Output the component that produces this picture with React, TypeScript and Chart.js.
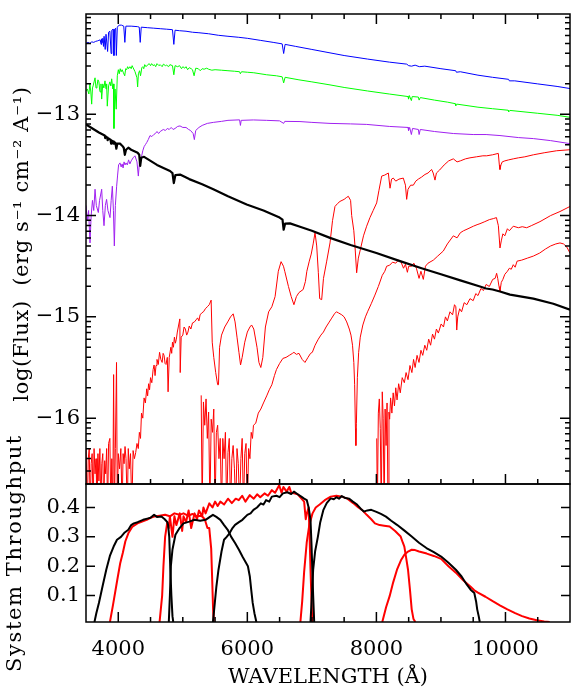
import React, { useEffect, useRef } from "react";
import { Chart, registerables } from "chart.js";

Chart.register(...registerables);

type Pt = [number, number];

// ---------- axis ranges and tick labels ----------
const wavelengthRange: Pt = [3500, 11000];
const fluxRange: Pt = [-16.65, -12.01];
const throughputRange: Pt = [0.01, 0.48];
const wavelengthTicks = [4000, 6000, 8000, 10000];
const fluxTicks = [-16, -15, -14, -13];
const throughputTicks = [0.1, 0.2, 0.3, 0.4];

// ---------- spectra: [wavelength (Å), log flux] ----------
const blueSpectrum: Pt[] = [
  [3500, -12.3], [3530, -12.29], [3560, -12.3], [3590, -12.285], [3620, -12.29], [3650, -12.28], [3680, -12.275],
  [3700, -12.27], [3720, -12.265], [3734, -12.31], [3742, -12.255], [3750, -12.29], [3760, -12.25], [3771, -12.33],
  [3780, -12.23], [3798, -12.36], [3810, -12.21], [3835, -12.38], [3850, -12.19], [3870, -12.18], [3889, -12.4],
  [3900, -12.17], [3920, -12.16], [3933, -12.42], [3945, -12.16], [3960, -12.15], [3970, -12.42], [3985, -12.14],
  [4013, -12.12], [4050, -12.12], [4085, -12.13], [4102, -12.29], [4118, -12.13], [4200, -12.13], [4300, -12.135],
  [4325, -12.14], [4340, -12.29], [4356, -12.14], [4450, -12.145], [4550, -12.15], [4650, -12.155], [4750, -12.16],
  [4840, -12.165], [4861, -12.31], [4880, -12.17], [4950, -12.175], [5050, -12.18], [5150, -12.19], [5250, -12.195],
  [5400, -12.205], [5550, -12.22], [5700, -12.23], [5867, -12.24], [6000, -12.25], [6200, -12.27], [6400, -12.29],
  [6540, -12.305], [6563, -12.4], [6585, -12.31], [6750, -12.33], [7000, -12.36], [7250, -12.39], [7500, -12.42],
  [7863, -12.455], [8200, -12.485], [8470, -12.505], [8500, -12.52], [8545, -12.525], [8600, -12.515], [8665, -12.53],
  [8750, -12.525], [9000, -12.55], [9229, -12.57], [9240, -12.585], [9300, -12.58], [9574, -12.614], [9800, -12.635],
  [10049, -12.655], [10060, -12.67], [10144, -12.67], [10500, -12.7], [10800, -12.725], [11000, -12.746],
];

const greenSpectrum: Pt[] = [
  [3500, -12.77], [3520, -12.75], [3545, -12.8], [3560, -12.7], [3575, -12.78], [3588, -12.9], [3600, -12.74],
  [3610, -12.72], [3625, -12.68], [3640, -12.64], [3655, -12.74], [3670, -12.72], [3685, -12.66], [3700, -12.68],
  [3712, -12.76], [3720, -12.78], [3732, -12.7], [3743, -12.85], [3760, -12.7], [3777, -12.74], [3794, -12.67],
  [3810, -12.75], [3820, -12.7], [3830, -12.92], [3850, -12.72], [3870, -12.68], [3885, -12.72], [3898, -12.65],
  [3915, -12.75], [3925, -12.7], [3933, -13.14], [3950, -12.75], [3968, -12.95], [3985, -12.62], [4001, -12.56],
  [4015, -12.6], [4030, -12.55], [4045, -12.58], [4060, -12.56], [4080, -12.59], [4100, -12.62], [4115, -12.55],
  [4130, -12.56], [4145, -12.53], [4160, -12.55], [4180, -12.53], [4200, -12.55], [4215, -12.52], [4230, -12.54],
  [4260, -12.58], [4290, -12.64], [4300, -12.73], [4312, -12.6], [4330, -12.57], [4345, -12.62], [4365, -12.54],
  [4380, -12.53], [4395, -12.55], [4410, -12.51], [4430, -12.53], [4450, -12.515], [4480, -12.5], [4500, -12.52],
  [4517, -12.5], [4540, -12.52], [4560, -12.51], [4580, -12.53], [4600, -12.5], [4630, -12.52], [4650, -12.51],
  [4680, -12.53], [4700, -12.505], [4730, -12.52], [4750, -12.515], [4780, -12.53], [4800, -12.51], [4840, -12.52],
  [4861, -12.61], [4880, -12.52], [4920, -12.53], [4950, -12.52], [4980, -12.55], [5000, -12.53], [5030, -12.545],
  [5050, -12.53], [5075, -12.56], [5100, -12.54], [5130, -12.55], [5150, -12.56], [5175, -12.62], [5200, -12.545],
  [5240, -12.55], [5270, -12.57], [5300, -12.55], [5330, -12.555], [5370, -12.545], [5400, -12.555], [5450, -12.565],
  [5500, -12.56], [5600, -12.565], [5700, -12.57], [5800, -12.575], [5880, -12.58], [5892, -12.6], [5910, -12.58],
  [6000, -12.585], [6100, -12.59], [6300, -12.61], [6450, -12.62], [6540, -12.63], [6563, -12.69], [6585, -12.635],
  [6800, -12.66], [7000, -12.68], [7281, -12.71], [7500, -12.735], [7863, -12.77], [8200, -12.8], [8490, -12.825],
  [8498, -12.85], [8510, -12.815], [8542, -12.865], [8555, -12.825], [8650, -12.83], [8662, -12.86], [8680, -12.835],
  [8900, -12.86], [9100, -12.88], [9220, -12.895], [9230, -12.915], [9250, -12.9], [9574, -12.93], [9800, -12.945],
  [10040, -12.96], [10050, -12.975], [10070, -12.962], [10500, -12.99], [10800, -13.01], [11000, -13.03],
];

const purpleSpectrum: Pt[] = [
  [3500, -13.9], [3520, -14.05], [3540, -13.95], [3562, -14.27], [3580, -14.0], [3600, -13.85], [3620, -13.95],
  [3640, -13.74], [3660, -13.9], [3691, -13.97], [3710, -13.85], [3743, -13.74], [3760, -13.95], [3779, -14.1],
  [3800, -13.9], [3819, -13.84], [3840, -13.95], [3872, -14.02], [3890, -13.85], [3908, -13.71], [3925, -13.95],
  [3939, -14.3], [3955, -13.9], [3975, -13.71], [3990, -13.6], [4005, -13.5], [4027, -13.48], [4045, -13.52],
  [4060, -13.49], [4075, -13.53], [4090, -13.47], [4105, -13.5], [4120, -13.48], [4140, -13.5], [4160, -13.45],
  [4180, -13.49], [4200, -13.46], [4230, -13.43], [4259, -13.41], [4290, -13.47], [4311, -13.61], [4330, -13.46],
  [4360, -13.42], [4380, -13.36], [4400, -13.32], [4420, -13.3], [4440, -13.28], [4465, -13.25], [4492, -13.21],
  [4520, -13.22], [4550, -13.2], [4575, -13.19], [4600, -13.17], [4625, -13.19], [4650, -13.17], [4698, -13.15],
  [4730, -13.16], [4760, -13.14], [4790, -13.15], [4820, -13.13], [4850, -13.15], [4880, -13.14], [4920, -13.12],
  [4957, -13.115], [5000, -13.13], [5050, -13.13], [5090, -13.15], [5120, -13.16], [5160, -13.19], [5179, -13.25],
  [5200, -13.16], [5250, -13.13], [5300, -13.11], [5380, -13.09], [5473, -13.08], [5600, -13.07], [5700, -13.06],
  [5880, -13.055], [5893, -13.11], [5905, -13.06], [6093, -13.056], [6300, -13.06], [6500, -13.065], [6563, -13.09],
  [6580, -13.07], [6816, -13.072], [7000, -13.08], [7281, -13.09], [7600, -13.095], [7850, -13.1], [8200, -13.12],
  [8490, -13.13], [8498, -13.16], [8515, -13.13], [8542, -13.2], [8560, -13.14], [8650, -13.15], [8662, -13.2],
  [8680, -13.15], [8900, -13.17], [9192, -13.19], [9500, -13.2], [9700, -13.2], [9915, -13.21], [10200, -13.23],
  [10432, -13.24], [10700, -13.26], [11000, -13.29],
];

const blackSpectrum: Pt[] = [
  [3500, -13.1], [3600, -13.14], [3700, -13.18], [3790, -13.21], [3798, -13.235], [3810, -13.22], [3830, -13.23],
  [3835, -13.255], [3850, -13.24], [3880, -13.25], [3889, -13.29], [3900, -13.26], [3925, -13.27], [3933, -13.29],
  [3955, -13.28], [3970, -13.34], [3985, -13.29], [4027, -13.29], [4060, -13.31], [4085, -13.33], [4102, -13.4],
  [4120, -13.35], [4156, -13.33], [4200, -13.35], [4300, -13.38], [4325, -13.4], [4340, -13.51], [4356, -13.43],
  [4400, -13.42], [4500, -13.46], [4600, -13.5], [4700, -13.53], [4802, -13.56], [4840, -13.58], [4861, -13.68],
  [4885, -13.6], [4957, -13.595], [5100, -13.64], [5300, -13.69], [5473, -13.74], [5700, -13.81], [5990, -13.89],
  [6250, -13.95], [6500, -14.02], [6545, -14.04], [6563, -14.14], [6585, -14.08], [6661, -14.077], [6816, -14.11],
  [7000, -14.15], [7281, -14.22], [7600, -14.29], [8000, -14.37], [8366, -14.45], [8700, -14.52], [9000, -14.58],
  [9300, -14.64], [9605, -14.7], [9700, -14.72], [9800, -14.73], [9915, -14.75], [10070, -14.78], [10432, -14.82],
  [10742, -14.87], [11000, -14.93],
];

const redSpectrumA: Pt[] = [
  [3500, -16.3], [3520, -16.9], [3535, -16.4], [3550, -16.3], [3565, -16.9], [3580, -16.45], [3595, -16.35],
  [3610, -16.9], [3625, -16.3], [3640, -16.55], [3655, -16.4], [3670, -16.9], [3685, -16.35], [3700, -16.62],
  [3715, -16.3], [3730, -16.9], [3745, -16.45], [3760, -16.35], [3775, -16.9], [3790, -16.42], [3805, -16.55],
  [3820, -16.3], [3835, -16.9], [3850, -16.25], [3870, -16.2], [3885, -16.9], [3900, -16.4], [3915, -16.9],
  [3928, -15.57], [3940, -16.9], [3955, -16.3], [3973, -15.45], [3985, -16.9], [4000, -16.35], [4020, -16.5],
  [4040, -16.3], [4060, -16.9], [4075, -16.35], [4090, -16.45], [4105, -16.28], [4120, -16.4], [4140, -16.9],
  [4155, -16.3], [4170, -16.5], [4190, -16.35], [4210, -16.9], [4230, -16.32], [4250, -16.4], [4270, -16.34],
  [4290, -16.25], [4310, -16.3], [4327, -16.14], [4345, -16.2], [4360, -15.95], [4380, -16.0], [4400, -15.8],
  [4420, -15.85], [4441, -15.71], [4455, -15.78], [4470, -15.66], [4485, -15.72], [4500, -15.6], [4520, -15.65],
  [4540, -15.52], [4555, -15.475], [4570, -15.58], [4585, -15.48], [4600, -15.42], [4620, -15.47], [4640, -15.35],
  [4660, -15.42], [4680, -15.45], [4695, -15.36], [4710, -15.38], [4725, -15.46], [4740, -15.47], [4760, -15.4],
  [4772, -15.74], [4790, -15.4], [4815, -15.3], [4828, -15.36], [4840, -15.25], [4855, -15.3], [4870, -15.2],
  [4885, -15.26], [4900, -15.22], [4915, -15.15], [4930, -15.1], [4954, -15.02], [4960, -15.55], [4975, -15.2],
  [5000, -15.18], [5020, -15.1], [5040, -15.12], [5060, -15.18], [5080, -15.15], [5100, -15.09], [5125, -15.12],
  [5150, -15.06], [5180, -15.05], [5205, -15.03], [5230, -15.01], [5250, -15.04], [5268, -14.98], [5295, -14.96],
  [5320, -14.95], [5350, -14.92], [5380, -14.9], [5410, -14.88], [5439, -14.835], [5456, -15.25], [5480, -15.4],
  [5510, -15.55], [5540, -15.67], [5553, -15.67], [5570, -15.3], [5600, -15.18], [5650, -15.1], [5696, -15.05],
  [5740, -15.0], [5781, -14.97], [5810, -15.05], [5840, -15.2], [5870, -15.35], [5895, -15.475], [5920, -15.4],
  [5960, -15.25], [6000, -15.15], [6040, -15.1], [6066, -15.08], [6100, -15.12], [6150, -15.3], [6180, -15.45],
  [6209, -15.5], [6240, -15.4], [6280, -15.1], [6330, -14.95], [6380, -14.9], [6430, -14.8], [6480, -14.55],
  [6523, -14.455], [6560, -14.5], [6580, -14.55], [6637, -14.7], [6680, -14.8], [6722, -14.88], [6760, -14.8],
  [6800, -14.76], [6865, -14.73], [6900, -14.65], [6922, -14.55], [6960, -14.45], [6990, -14.38], [7020, -14.28],
  [7049, -14.17], [7075, -14.3], [7100, -14.56], [7121, -14.82], [7152, -14.83], [7180, -14.62], [7230, -14.45],
  [7281, -14.27], [7320, -14.05], [7358, -13.91], [7400, -13.88], [7436, -13.86], [7500, -13.84], [7540, -13.82],
  [7565, -13.81], [7600, -13.85], [7617, -14.0], [7650, -14.15], [7668, -14.3], [7694, -14.565], [7720, -14.42],
  [7746, -14.35], [7800, -14.2], [7849, -14.105], [7900, -14.02], [7950, -13.95], [8004, -13.875], [8040, -13.75],
  [8082, -13.61], [8130, -13.6], [8185, -13.58], [8211, -13.73], [8235, -13.64], [8262, -13.63], [8300, -13.66],
  [8350, -13.64], [8417, -13.63], [8450, -13.7], [8469, -13.84], [8490, -13.74], [8530, -13.7], [8572, -13.7],
  [8610, -13.66], [8650, -13.64], [8700, -13.62], [8753, -13.594], [8800, -13.58], [8856, -13.545], [8880, -13.58],
  [8908, -13.65], [8930, -13.58], [8980, -13.55], [9050, -13.5], [9120, -13.46], [9192, -13.44], [9250, -13.47],
  [9300, -13.46], [9380, -13.44], [9450, -13.43], [9550, -13.42], [9650, -13.41], [9709, -13.41], [9800, -13.4],
  [9889, -13.386], [9905, -13.5], [9915, -13.545], [9930, -13.5], [9950, -13.47], [9990, -13.46], [10050, -13.45],
  [10121, -13.44], [10200, -13.43], [10300, -13.42], [10432, -13.4], [10600, -13.38], [10794, -13.36], [11000, -13.35],
];

const redSpectrumB: Pt[] = [
  [5285, -15.775], [5300, -16.9], [5320, -15.84], [5340, -16.07], [5360, -15.81], [5380, -16.2], [5400, -15.94],
  [5420, -16.9], [5440, -16.01], [5460, -16.14], [5480, -15.91], [5500, -16.9], [5520, -16.14], [5540, -16.07],
  [5560, -16.4], [5580, -16.2], [5600, -16.9], [5620, -16.2], [5640, -16.4], [5660, -16.14], [5680, -16.9],
  [5700, -16.34], [5720, -16.2], [5740, -16.9], [5760, -16.4], [5780, -16.27], [5800, -16.5], [5820, -16.9],
  [5840, -16.3], [5860, -16.45], [5880, -16.9], [5900, -16.4], [5920, -16.2], [5940, -16.9], [5960, -16.35],
  [5980, -16.25], [6000, -16.9], [6020, -16.3], [6040, -16.4], [6060, -16.14], [6080, -16.2], [6095, -16.07],
  [6130, -16.05], [6170, -15.95], [6209, -15.91], [6250, -15.85], [6300, -15.78], [6340, -15.72], [6380, -15.67],
  [6420, -15.58], [6451, -15.52], [6500, -15.46], [6551, -15.41], [6600, -15.4], [6650, -15.38], [6700, -15.36],
  [6722, -15.35], [6760, -15.37], [6800, -15.36], [6850, -15.42], [6893, -15.45], [6940, -15.4], [6980, -15.36],
  [7007, -15.35], [7050, -15.28], [7100, -15.22], [7140, -15.18], [7179, -15.15], [7220, -15.1], [7260, -15.06],
  [7300, -15.02], [7350, -14.97], [7380, -14.95], [7410, -14.96], [7464, -14.98], [7500, -15.0], [7540, -15.05],
  [7580, -15.12], [7606, -15.18], [7630, -15.28], [7650, -15.45], [7663, -15.67], [7675, -16.1], [7682, -16.27],
  [7690, -16.05], [7705, -15.6], [7725, -15.35], [7750, -15.2], [7790, -15.08], [7830, -15.0], [7863, -14.95],
  [7920, -14.87], [7977, -14.785], [8030, -14.7], [8091, -14.59], [8130, -14.55], [8159, -14.5], [8205, -14.49],
  [8250, -14.46], [8300, -14.47], [8340, -14.44], [8376, -14.45], [8420, -14.52], [8450, -14.48], [8480, -14.56],
  [8500, -14.5], [8547, -14.5], [8580, -14.47], [8620, -14.52], [8661, -14.62], [8690, -14.55], [8727, -14.63],
  [8760, -14.5], [8800, -14.47], [8882, -14.44], [8950, -14.4], [9037, -14.35], [9100, -14.28], [9192, -14.2],
  [9250, -14.22], [9300, -14.17], [9350, -14.15], [9420, -14.13], [9502, -14.105], [9560, -14.09], [9605, -14.08],
  [9680, -14.06], [9750, -14.04], [9812, -14.03], [9860, -14.02], [9890, -14.1], [9915, -14.32], [9935, -14.25],
  [9960, -14.18], [9990, -14.2], [10030, -14.13], [10060, -14.15], [10121, -14.105], [10200, -14.12], [10260, -14.11],
  [10329, -14.12], [10400, -14.1], [10535, -14.06], [10700, -14.0], [10845, -13.96], [11000, -13.91],
];

const redSpectrumC: Pt[] = [
  [8005, -16.2], [8015, -16.9], [8030, -15.95], [8045, -15.81], [8060, -16.1], [8075, -16.9], [8091, -15.74],
  [8105, -16.0], [8120, -16.9], [8135, -15.91], [8150, -16.27], [8165, -15.85], [8180, -16.9], [8195, -15.94],
  [8205, -16.01], [8220, -15.8], [8240, -15.95], [8260, -15.75], [8280, -15.88], [8300, -15.7], [8320, -15.82],
  [8345, -15.66], [8370, -15.75], [8400, -15.6], [8433, -15.65], [8460, -15.55], [8490, -15.62], [8520, -15.48],
  [8550, -15.55], [8576, -15.42], [8600, -15.5], [8630, -15.38], [8660, -15.45], [8690, -15.33], [8718, -15.38],
  [8750, -15.28], [8780, -15.33], [8810, -15.22], [8840, -15.28], [8870, -15.17], [8900, -15.22], [8930, -15.12],
  [8960, -15.16], [9003, -15.07], [9040, -15.1], [9070, -15.0], [9100, -15.04], [9140, -14.95], [9180, -14.98],
  [9210, -14.88], [9231, -14.9], [9245, -15.13], [9260, -15.0], [9290, -14.92], [9320, -14.95], [9360, -14.86],
  [9402, -14.88], [9450, -14.82], [9500, -14.84], [9540, -14.77], [9574, -14.79], [9620, -14.72], [9660, -14.74],
  [9700, -14.68], [9750, -14.7], [9802, -14.63], [9840, -14.62], [9863, -14.57], [9880, -14.62], [9900, -14.7],
  [9915, -14.75], [9935, -14.66], [9960, -14.63], [9990, -14.58], [10030, -14.55], [10060, -14.52], [10090, -14.53],
  [10121, -14.485], [10150, -14.51], [10180, -14.45], [10250, -14.44], [10340, -14.42], [10432, -14.4], [10530, -14.37],
  [10620, -14.33], [10700, -14.3], [10780, -14.28], [10845, -14.27], [10900, -14.28], [10950, -14.31], [11000, -14.37],
];

// ---------- filter throughputs: [wavelength (Å), throughput] ----------
const blackFilter1: Pt[] = [
  [3631, 0.01], [3660, 0.04], [3700, 0.075], [3760, 0.135], [3814, 0.188], [3870, 0.235], [3928, 0.267], [3980, 0.29],
  [4042, 0.3], [4100, 0.315], [4156, 0.324], [4200, 0.34], [4241, 0.346], [4300, 0.35], [4384, 0.358], [4450, 0.362],
  [4500, 0.365], [4555, 0.375], [4600, 0.368], [4669, 0.369], [4720, 0.36], [4760, 0.35], [4772, 0.34], [4790, 0.3],
  [4805, 0.2], [4823, 0.1], [4840, 0.03], [4852, 0.01],
];
const blackFilter2: Pt[] = [
  [4783, 0.01], [4800, 0.1], [4815, 0.2], [4840, 0.257], [4886, 0.307], [4950, 0.33], [5011, 0.346], [5100, 0.352],
  [5182, 0.358], [5270, 0.355], [5353, 0.358], [5420, 0.368], [5467, 0.375], [5520, 0.368], [5582, 0.358], [5640, 0.34],
  [5696, 0.324], [5750, 0.3], [5810, 0.279], [5870, 0.256], [5924, 0.233], [5970, 0.215], [6009, 0.2], [6038, 0.166],
  [6060, 0.12], [6083, 0.075], [6110, 0.04], [6140, 0.01],
];
const blackFilter3: Pt[] = [
  [5467, 0.01], [5496, 0.075], [5520, 0.13], [5553, 0.188], [5600, 0.25], [5639, 0.29], [5680, 0.3], [5724, 0.312],
  [5770, 0.33], [5810, 0.341], [5870, 0.35], [5924, 0.358], [6000, 0.375], [6050, 0.38], [6095, 0.392], [6150, 0.4],
  [6209, 0.414], [6250, 0.41], [6290, 0.425], [6340, 0.42], [6380, 0.437], [6450, 0.44], [6500, 0.435], [6551, 0.448],
  [6620, 0.452], [6680, 0.446], [6722, 0.454], [6780, 0.445], [6836, 0.437], [6880, 0.43], [6922, 0.425], [6950, 0.4],
  [6979, 0.358], [6995, 0.27], [7007, 0.188], [7020, 0.1], [7036, 0.01],
];
const blackFilter4: Pt[] = [
  [6979, 0.01], [7000, 0.1], [7020, 0.188], [7050, 0.25], [7093, 0.3], [7130, 0.35], [7179, 0.392], [7230, 0.415],
  [7292, 0.431], [7340, 0.428], [7380, 0.435], [7420, 0.43], [7464, 0.439], [7520, 0.432], [7580, 0.43], [7635, 0.42],
  [7700, 0.41], [7760, 0.395], [7806, 0.386], [7860, 0.39], [7920, 0.392], [8000, 0.385], [8070, 0.378], [8148, 0.369],
  [8230, 0.355], [8319, 0.341], [8430, 0.322], [8547, 0.301], [8660, 0.28], [8775, 0.262], [8890, 0.248], [9003, 0.233],
  [9117, 0.212], [9231, 0.188], [9320, 0.165], [9402, 0.137], [9460, 0.12], [9517, 0.109], [9545, 0.08], [9562, 0.053],
  [9585, 0.03], [9602, 0.01],
];
const redFilter1: Pt[] = [
  [3871, 0.01], [3920, 0.07], [3985, 0.154], [4030, 0.21], [4070, 0.245], [4110, 0.285], [4156, 0.312], [4220, 0.335],
  [4298, 0.346], [4370, 0.352], [4441, 0.358], [4500, 0.365], [4555, 0.369], [4640, 0.372], [4726, 0.375], [4800, 0.37],
  [4870, 0.38], [4950, 0.375], [5011, 0.38], [5080, 0.372], [5150, 0.378], [5220, 0.37], [5290, 0.372], [5340, 0.36],
  [5382, 0.33], [5410, 0.33], [5440, 0.26], [5456, 0.15], [5470, 0.05], [5479, 0.01],
];
const redFilter2: Pt[] = [
  [4640, 0.01], [4680, 0.1], [4700, 0.2], [4726, 0.3], [4760, 0.35], [4783, 0.33], [4800, 0.37], [4840, 0.3],
  [4870, 0.37], [4900, 0.34], [4954, 0.38], [4990, 0.32], [5011, 0.37], [5050, 0.35], [5090, 0.39], [5130, 0.33],
  [5182, 0.38], [5220, 0.36], [5250, 0.39], [5300, 0.37], [5320, 0.4], [5353, 0.38], [5411, 0.414], [5460, 0.4],
  [5500, 0.42], [5540, 0.405], [5582, 0.42], [5640, 0.41], [5700, 0.43], [5760, 0.415], [5820, 0.43], [5867, 0.425],
  [5920, 0.44], [5970, 0.42], [6038, 0.442], [6100, 0.43], [6152, 0.445], [6200, 0.435], [6266, 0.448], [6320, 0.44],
  [6380, 0.459], [6430, 0.45], [6494, 0.476], [6530, 0.45], [6560, 0.47], [6608, 0.454], [6650, 0.47], [6680, 0.45],
  [6722, 0.448], [6780, 0.445], [6836, 0.431], [6880, 0.42], [6905, 0.36], [6922, 0.38], [6950, 0.4], [6965, 0.3],
  [6979, 0.188], [6995, 0.08], [7007, 0.01],
];
const redFilter3: Pt[] = [
  [6822, 0.01], [6850, 0.08], [6880, 0.18], [6920, 0.28], [6960, 0.34], [7010, 0.38], [7060, 0.4], [7121, 0.41],
  [7200, 0.425], [7292, 0.437], [7380, 0.44], [7464, 0.437], [7550, 0.43], [7640, 0.415], [7720, 0.4], [7777, 0.392],
  [7850, 0.375], [7920, 0.36], [7977, 0.346], [8050, 0.34], [8120, 0.338], [8205, 0.335], [8290, 0.32], [8376, 0.301],
  [8410, 0.28], [8433, 0.267], [8460, 0.23], [8490, 0.188], [8520, 0.12], [8547, 0.053], [8575, 0.02], [8604, 0.01],
];
const redFilter4: Pt[] = [
  [8091, 0.01], [8150, 0.06], [8205, 0.098], [8260, 0.145], [8319, 0.188], [8380, 0.22], [8433, 0.239], [8490, 0.25],
  [8547, 0.256], [8600, 0.255], [8661, 0.25], [8780, 0.243], [8889, 0.235], [9003, 0.225], [9117, 0.2], [9231, 0.178],
  [9345, 0.152], [9460, 0.13], [9517, 0.118], [9574, 0.11], [9690, 0.096], [9802, 0.081], [9920, 0.066], [10030, 0.053],
  [10150, 0.04], [10258, 0.03], [10370, 0.022], [10486, 0.016], [10600, 0.012], [10686, 0.01],
];

const FONT = "'DejaVu Serif', serif";

const panelPlugin = {
  id: "panels",
  beforeDatasetDraw(chart: any, args: any) {
    const ds = chart.data.datasets[args.index];
    const sc = chart.scales[ds.yAxisID];
    const a = chart.chartArea;
    const ctx = chart.ctx;
    ctx.save();
    ctx.beginPath();
    ctx.rect(a.left, sc.top, a.right - a.left, sc.bottom - sc.top);
    ctx.clip();
  },
  afterDatasetDraw(chart: any) {
    chart.ctx.restore();
  },
  afterDraw(chart: any) {
    const ctx = chart.ctx;
    const xs = chart.scales.x;
    const fs = chart.scales.yFlux;
    const ts = chart.scales.yThr;
    const L = chart.chartArea.left;
    const R = chart.chartArea.right;
    ctx.save();
    ctx.strokeStyle = "#000";
    ctx.lineWidth = 1.5;
    ctx.strokeRect(L, fs.top, R - L, fs.bottom - fs.top);
    ctx.strokeRect(L, ts.top, R - L, ts.bottom - ts.top);
    ctx.beginPath();
    for (let w = wavelengthRange[0] + 500; w < wavelengthRange[1]; w += 500) {
      const px = xs.getPixelForValue(w);
      const len = w % 2000 === 0 ? 10 : 5;
      ctx.moveTo(px, fs.top);
      ctx.lineTo(px, fs.top + len);
      ctx.moveTo(px, fs.bottom);
      ctx.lineTo(px, fs.bottom - len);
      ctx.moveTo(px, ts.bottom);
      ctx.lineTo(px, ts.bottom - len);
    }
    for (let d = -17; d <= -12; d++) {
      for (let k = 1; k <= 9; k++) {
        const v = d + Math.log10(k);
        if (v <= fs.min || v >= fs.max) continue;
        const py = fs.getPixelForValue(v);
        const len = k === 1 ? 10 : 5;
        ctx.moveTo(L, py);
        ctx.lineTo(L + len, py);
        ctx.moveTo(R, py);
        ctx.lineTo(R - len, py);
      }
    }
    for (const v of throughputTicks) {
      const py = ts.getPixelForValue(v);
      ctx.moveTo(L, py);
      ctx.lineTo(L + 9, py);
      ctx.moveTo(R, py);
      ctx.lineTo(R - 9, py);
    }
    ctx.stroke();

    ctx.fillStyle = "#000";
    ctx.font = `21px ${FONT}`;
    ctx.textAlign = "center";
    ctx.textBaseline = "middle";
    ctx.fillText("WAVELENGTH (\u00C5)", (L + R) / 2, ts.bottom + 56);
    ctx.save();
    ctx.translate(23, (fs.top + fs.bottom) / 2 - 5);
    ctx.rotate(-Math.PI / 2);
    (ctx as any).letterSpacing = "0.6px";
    ctx.fillText("log(Flux)  (erg s\u207B\u00B9 cm\u207B\u00B2 A\u207B\u00B9)", 0, 0);
    ctx.restore();
    ctx.save();
    ctx.translate(16, (ts.top + ts.bottom) / 2);
    ctx.rotate(-Math.PI / 2);
    (ctx as any).letterSpacing = "1.6px";
    ctx.fillText("System Throughput", 0, 0);
    ctx.restore();
    ctx.restore();
  },
};

const noPad = (s: any) => {
  s.paddingTop = 0;
  s.paddingBottom = 0;
  s.paddingLeft = 0;
  s.paddingRight = 0;
};

export default function App() {
  const ref = useRef<HTMLCanvasElement>(null);

  useEffect(() => {
    document.body.style.margin = "0";
    const toXY = (a: Pt[]) => a.map(([x, y]) => ({ x, y }));
    const line = (label: string, data: Pt[], color: string, width: number, axis: string) => ({
      label,
      data: toXY(data),
      borderColor: color,
      backgroundColor: color,
      borderWidth: width,
      yAxisID: axis,
      pointRadius: 0,
      tension: 0,
      fill: false,
      borderJoinStyle: "round" as const,
    });

    const chart = new Chart(ref.current as HTMLCanvasElement, {
      type: "line",
      data: {
        datasets: [
          line("black star", blackSpectrum, "#000000", 2.2, "yFlux"),
          line("blue star", blueSpectrum, "#0000ff", 1, "yFlux"),
          line("green star", greenSpectrum, "#00ff00", 1, "yFlux"),
          line("purple star", purpleSpectrum, "#a020f0", 1, "yFlux"),
          line("red star A", redSpectrumA, "#ff0000", 1, "yFlux"),
          line("red star B", redSpectrumB, "#ff0000", 1, "yFlux"),
          line("red star C", redSpectrumC, "#ff0000", 1, "yFlux"),
          line("filter 1", blackFilter1, "#000000", 2, "yThr"),
          line("filter 2", blackFilter2, "#000000", 2, "yThr"),
          line("filter 3", blackFilter3, "#000000", 2, "yThr"),
          line("filter 4", blackFilter4, "#000000", 2, "yThr"),
          line("red filter 1", redFilter1, "#ff0000", 2, "yThr"),
          line("red filter 2", redFilter2, "#ff0000", 2, "yThr"),
          line("red filter 3", redFilter3, "#ff0000", 2, "yThr"),
          line("red filter 4", redFilter4, "#ff0000", 2, "yThr"),
        ] as any,
      },
      options: {
        animation: false,
        responsive: true,
        maintainAspectRatio: false,
        events: [],
        layout: { padding: { top: 14, right: 7, left: 0, bottom: 0 } },
        plugins: { legend: { display: false }, tooltip: { enabled: false } },
        scales: {
          x: {
            type: "linear",
            position: "bottom",
            min: wavelengthRange[0],
            max: wavelengthRange[1],
            grid: { display: false, drawTicks: false },
            border: { display: false },
            afterBuildTicks: (s: any) => {
              s.ticks = wavelengthTicks.map((value) => ({ value }));
            },
            afterFit: (s: any) => {
              s.height = 70;
              noPad(s);
            },
            ticks: {
              padding: 15,
              color: "#000",
              font: { family: FONT, size: 21 },
              maxRotation: 0,
              autoSkip: false,
              callback: (v: any) => String(v),
            },
          },
          yThr: {
            type: "linear",
            position: "left",
            stack: "panels",
            stackWeight: 138,
            min: throughputRange[0],
            max: throughputRange[1],
            grid: { display: false, drawTicks: false },
            border: { display: false },
            afterBuildTicks: (s: any) => {
              s.ticks = throughputTicks.map((value) => ({ value }));
            },
            afterFit: (s: any) => {
              s.width = 86;
              noPad(s);
            },
            ticks: {
              padding: 6,
              color: "#000",
              autoSkip: false,
              font: { family: FONT, size: 21 },
              callback: (v: any) => Number(v).toFixed(1),
            },
          },
          yFlux: {
            type: "linear",
            position: "left",
            stack: "panels",
            stackWeight: 470,
            min: fluxRange[0],
            max: fluxRange[1],
            grid: { display: false, drawTicks: false },
            border: { display: false },
            afterBuildTicks: (s: any) => {
              s.ticks = fluxTicks.map((value) => ({ value }));
            },
            afterFit: (s: any) => {
              s.width = 86;
              noPad(s);
            },
            ticks: {
              padding: 6,
              color: "#000",
              autoSkip: false,
              font: { family: FONT, size: 21 },
              callback: (v: any) => "\u2212" + Math.abs(Number(v)),
            },
          },
        },
      } as any,
      plugins: [panelPlugin],
    });
    return () => chart.destroy();
  }, []);

  return (
    <div style={{ width: 577, height: 692, position: "relative" }}>
      <canvas ref={ref} />
    </div>
  );
}
